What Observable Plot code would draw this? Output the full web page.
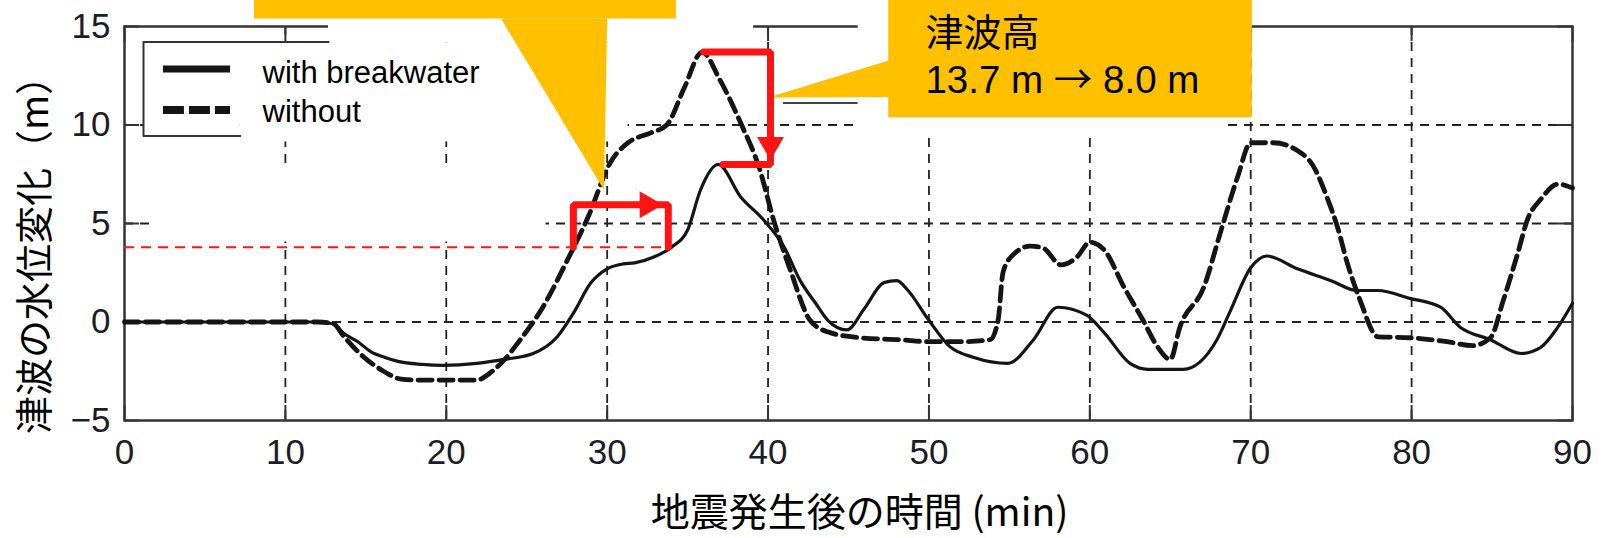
<!DOCTYPE html>
<html><head><meta charset="utf-8">
<script src="https://cdn.jsdelivr.net/npm/d3@7"></script>
<script src="https://cdn.jsdelivr.net/npm/@observablehq/plot@0.6"></script>
<style>
body{margin:0;background:#fff}
</style></head><body><div id="chart"></div>
<script>
// ---- data ----
const seriesNames = ["with breakwater", "without"];
const tWith = [0, 12, 13, 13.6, 14.5, 15.3, 16.2, 17, 18.5, 19.8, 21.9, 23.6, 25.4, 26.9, 27.9, 29, 30, 31, 31.7, 32.9, 34, 35, 35.8, 36.9, 38.3, 39.7, 41, 42, 43, 43.7, 44.9, 46, 47.2, 48, 48.7, 49.9, 51.3, 52.8, 54.9, 56.5, 58, 59.8, 60.9, 62.5, 63.6, 65.8, 67.9, 68.7, 70, 71, 72.9, 75, 76.6, 77.9, 79.9, 81.8, 83, 84.9, 86.8, 88, 89.1, 90];
const vWith = [0, 0, -0.1, -0.56, -1.0, -1.5, -1.8, -2.0, -2.15, -2.2, -2.1, -1.9, -1.6, -0.75, 0.45, 2.0, 2.7, 2.95, 3.0, 3.3, 3.8, 4.67, 6.7, 8.0, 6.35, 5.2, 3.8, 2.1, 0.9, 0.1, -0.4, 0.7, 2.0, 2.1, 1.6, 0.2, -1.25, -1.8, -2.1, -0.9, 0.75, 0.35, -0.55, -2.1, -2.4, -2.4, -0.9, 0.5, 2.75, 3.35, 2.7, 2.1, 1.6, 1.6, 1.2, 0.75, -0.25, -0.9, -1.6, -1.3, -0.25, 0.95];
const tWithout = [0, 12, 13, 13.6, 14.9, 16.1, 17.2, 18.5, 19.8, 21.9, 22.7, 23.4, 24.6, 26.0, 27.5, 28.8, 30.2, 31.3, 32.7, 33.7, 34.8, 35.9, 37.0, 38.3, 39.5, 40.3, 41.4, 42.6, 43.7, 45.7, 48.2, 50.1, 52, 53.8, 54.3, 54.6, 55.1, 56.3, 57.1, 58.2, 59.2, 60.0, 60.9, 62.1, 63.3, 64.2, 65.0, 65.6, 67.1, 68.1, 69.2, 70.0, 71.4, 72.9, 73.9, 74.8, 75.4, 76.0, 76.8, 77.9, 79.9, 82.2, 83.8, 84.9, 85.7, 86.6, 87.2, 88.0, 89.1, 90];
const vWithout = [0, 0, -0.1, -0.7, -1.8, -2.5, -2.9, -2.95, -2.95, -2.95, -2.6, -2.1, -0.9, 0.75, 3.1, 5.3, 8.1, 9.1, 9.6, 10.0, 11.9, 13.7, 12.3, 10.1, 7.7, 5.3, 2.6, 0.1, -0.5, -0.8, -0.9, -1.0, -1.0, -0.9, 0.1, 2.5, 3.3, 3.85, 3.75, 2.9, 3.3, 4.05, 3.65, 1.8, 0.1, -1.25, -1.9, -0.25, 1.8, 4.5, 7.4, 9.1, 9.1, 8.7, 7.9, 6.2, 4.8, 3.0, 1.1, -0.75, -0.8, -1.0, -1.2, -0.8, 1.1, 3.5, 5.2, 6.2, 7.0, 6.8];
const xTicks = [0, 10, 20, 30, 40, 50, 60, 70, 80, 90];
const yTicks = [-5, 0, 5, 10, 15];
const xLabel = "地震発生後の時間 (min)";
const yLabel = "津波の水位変化（m）";
const calloutLines = ["津波高", "13.7 m → 8.0 m"];
const peakWithout = 13.7, peakWith = 8.0, floodLevel = 3.8, shiftTop = 5.95;

// ---- tables ----
const withData = tWith.map((t, i) => ({t, v: vWith[i]}));
const withoutData = tWithout.map((t, i) => ({t, v: vWithout[i]}));

// annotation geometry (data units)
const tickLenY = 0.76, tickLenX = 0.93;
const patches = [
  {x1: 1.18, x2: 7.2, y1: 9.44, y2: 14.21},
  {x1: 7.2, x2: 31.3, y1: 9.14, y2: 14.16},
  {x1: 12.68, x2: 39.1, y1: 14.16, y2: 16.6},
  {x1: 45.6, x2: 68.2, y1: 9.6, y2: 16.6},
  {x1: 1.62, x2: 26.2, y1: 4.06, y2: 7.72}
];
const legendBox = [{t: 7.2, v: 9.44}, {t: 1.18, v: 9.44}, {t: 1.18, v: 14.21}, {t: 12.68, v: 14.21}];
const bracket1 = [{t: 27.9, v: floodLevel}, {t: 27.9, v: shiftTop}, {t: 33.8, v: shiftTop}, {t: 33.8, v: floodLevel}];
const bracket2 = [{t: 36.0, v: peakWithout}, {t: 40.15, v: peakWithout}, {t: 40.15, v: peakWith}, {t: 37.2, v: peakWith}];
const heads = [{t: 32.5, v: shiftTop, rot: 90}, {t: 40.15, v: 9.0, rot: 180}];
const callout1 = {x1: 8.08, x2: 34.3, y1: 15.38, y2: 16.6};
const pointer1 = [{t: 23.4, v: 15.4}, {t: 30.0, v: 15.4}, {t: 29.8, v: 6.7}];
const callout2 = {x1: 47.5, x2: 70.1, y1: 10.36, y2: 16.6};
const pointer2 = [{t: 47.6, v: 13.3}, {t: 40.0, v: 11.4}, {t: 47.6, v: 11.42}];
const yellow = "#FFC000";
const red = "#ff1414";
const ink = "#151515";
const sans = "'Liberation Sans', Arial, 'Noto Sans CJK JP', sans-serif";
const cjk = "'Noto Sans CJK JP', sans-serif";

const chart = Plot.plot({
  width: 1603, height: 538,
  marginLeft: 124, marginRight: 31, marginTop: 26, marginBottom: 118,
  style: {background: "#fff", fontFamily: sans, color: "#222"},
  x: {domain: [0, 90]},
  y: {domain: [-5, 15]},
  marks: [
    // grid
    Plot.ruleX(xTicks.slice(1, -1), {stroke: "#222", strokeWidth: 1.8, strokeDasharray: "9,7"}),
    Plot.ruleY(yTicks.slice(1, -1), {stroke: "#222", strokeWidth: 1.8, strokeDasharray: "9,7"}),
    // inward ticks
    Plot.ruleX(xTicks, {y1: -5, y2: -5 + tickLenY, stroke: "#333", strokeWidth: 2}),
    Plot.ruleX(xTicks, {y1: 15, y2: 15 - tickLenY, stroke: "#333", strokeWidth: 2}),
    Plot.ruleY(yTicks, {x1: 0, x2: tickLenX, stroke: "#333", strokeWidth: 2}),
    Plot.ruleY(yTicks, {x1: 90, x2: 90 - tickLenX, stroke: "#333", strokeWidth: 2}),
    Plot.frame({stroke: "#333", strokeWidth: 2.5}),
    // white cover patches
    Plot.rect(patches, {x1: "x1", x2: "x2", y1: "y1", y2: "y2", fill: "white"}),
    Plot.line(legendBox, {x: "t", y: "v", stroke: "#333", strokeWidth: 2}),
    Plot.ruleY([11.12], {x1: 40.96, x2: 45.6, stroke: "#444", strokeWidth: 2}),
    // axes
    Plot.axisX(xTicks, {tickSize: 0, tickPadding: 19, fontSize: 35, label: null, fill: "#1c1c28"}),
    Plot.axisY(yTicks, {tickSize: 0, tickPadding: 14, fontSize: 35, label: null, fill: "#1c1c28"}),
    // legend
    Plot.ruleY([12.84], {x1: 2.42, x2: 6.59, stroke: ink, strokeWidth: 7}),
    Plot.ruleY([10.76], {x1: 2.42, x2: 6.59, stroke: ink, strokeWidth: 8, strokeDasharray: "21,5"}),
    Plot.text(seriesNames, {x: 8.58, y: [12.62, 10.64], text: d => d, textAnchor: "start", lineAnchor: "middle", fontSize: 31, fill: "#000"}),
    // flood level
    Plot.ruleY([floodLevel], {x1: 0, x2: 33.8, stroke: red, strokeWidth: 2, strokeDasharray: "10,7"}),
    // curves
    Plot.line(withData, {x: "t", y: "v", curve: "monotone-x", stroke: ink, strokeWidth: 3.2}),
    Plot.line(withoutData, {x: "t", y: "v", curve: "monotone-x", stroke: ink, strokeWidth: 4.8, strokeDasharray: "14,7"}),
    // callouts
    Plot.rect([callout1], {x1: "x1", x2: "x2", y1: "y1", y2: "y2", fill: yellow}),
    Plot.line(pointer1, {x: "t", y: "v", fill: yellow, stroke: "none"}),
    Plot.rect([callout2], {x1: "x1", x2: "x2", y1: "y1", y2: "y2", fill: yellow}),
    Plot.line(pointer2, {x: "t", y: "v", fill: yellow, stroke: "none"}),
    // red brackets
    Plot.line(bracket1, {x: "t", y: "v", stroke: red, strokeWidth: 7, strokeLinejoin: "miter"}),
    Plot.line(bracket2, {x: "t", y: "v", stroke: red, strokeWidth: 7, strokeLinejoin: "miter"}),
    Plot.dot(heads, {x: "t", y: "v", rotate: "rot", symbol: "triangle", r: 10, fill: red, stroke: "none"}),
    // callout text
    Plot.text([calloutLines[0]], {x: 49.78, y: 14.62, textAnchor: "start", lineAnchor: "middle", fontSize: 38, fill: "#000", fontFamily: cjk}),
    Plot.text([calloutLines[1]], {x: 49.78, y: 12.26, textAnchor: "start", lineAnchor: "middle", fontSize: 38.5, fill: "#000"}),
    // axis titles
    Plot.text([xLabel], {frameAnchor: "bottom", dx: 11, dy: 93, textAnchor: "middle", lineAnchor: "middle", fontSize: 39, fill: "#000", fontFamily: cjk}),
    Plot.text([yLabel], {frameAnchor: "left", dx: -89, dy: 22, rotate: -90, textAnchor: "middle", lineAnchor: "middle", fontSize: 38, fill: "#000", fontFamily: cjk})
  ]
});

// render the callout arrow glyph with the CJK font (long arrow), keeping one text element
d3.select(chart).selectAll("text")
  .filter(function() { return this.textContent === calloutLines[1]; })
  .each(function() {
    const parts = calloutLines[1].split("→");
    const t = d3.select(this);
    t.text(null);
    t.append("tspan").text(parts[0]);
    t.append("tspan").attr("font-family", cjk).text("→");
    t.append("tspan").text(parts[1]);
  });

document.getElementById("chart").appendChild(chart);
</script></body></html>
